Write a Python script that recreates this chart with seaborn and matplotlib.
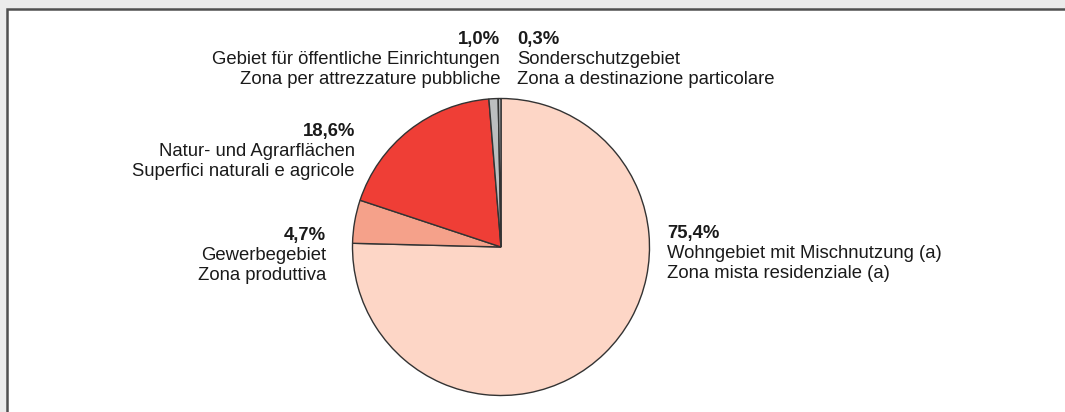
import matplotlib
matplotlib.use("Agg")
import matplotlib.pyplot as plt
import seaborn as sns
from matplotlib.patches import Rectangle

# data
shares = [75.4, 4.7, 18.6, 1.0, 0.3]
pct_labels = ["75,4%", "4,7%", "18,6%", "1,0%", "0,3%"]
names_de = ["Wohngebiet mit Mischnutzung (a)", "Gewerbegebiet", "Natur- und Agrarflächen",
            "Gebiet für öffentliche Einrichtungen", "Sonderschutzgebiet"]
names_it = ["Zona mista residenziale (a)", "Zona produttiva", "Superfici naturali e agricole",
            "Zona per attrezzature pubbliche", "Zona a destinazione particolare"]
colors = ["#fdd6c6", "#f5a18a", "#ef3e36", "#bcbec0", "#a9abae"]

# label anchor (pixel x, pixel y of first line, alignment)
label_pos = [(667, 233, "left"), (326, 235, "right"), (355, 131, "right"),
             (500, 39, "right"), (517, 39, "left")]

sns.set_theme(style="white")
plt.rcParams["font.family"] = ["Liberation Sans", "DejaVu Sans"]

W, H = 1065, 412
fig = plt.figure(figsize=(W / 100, H / 100), dpi=100, facecolor="#ebebeb")
ax = fig.add_axes([0, 0, 1, 1])

# white panel with dark border
ax.add_patch(Rectangle((6.5, -20), W + 20, H - 8.5 + 20, facecolor="white",
                       edgecolor="#505050", linewidth=1.8, zorder=0))

ax.pie(shares, colors=colors, startangle=90, counterclock=False,
       center=(501, H - 247), radius=148.5, frame=True,
       wedgeprops=dict(edgecolor="#333333", linewidth=1.0))
ax.set_xlim(0, W)
ax.set_ylim(0, H)
ax.axis("off")

for i in range(len(shares)):
    x, y, ha = label_pos[i]
    ax.text(x, H - y, pct_labels[i], ha=ha, va="center", fontsize=13.3,
            fontweight="bold", color="#1a1a1a")
    ax.text(x, H - y - 20, names_de[i], ha=ha, va="center", fontsize=13.3, color="#1a1a1a")
    ax.text(x, H - y - 40, names_it[i], ha=ha, va="center", fontsize=13.3, color="#1a1a1a")

fig.savefig("out.png", dpi=100, facecolor=fig.get_facecolor())
